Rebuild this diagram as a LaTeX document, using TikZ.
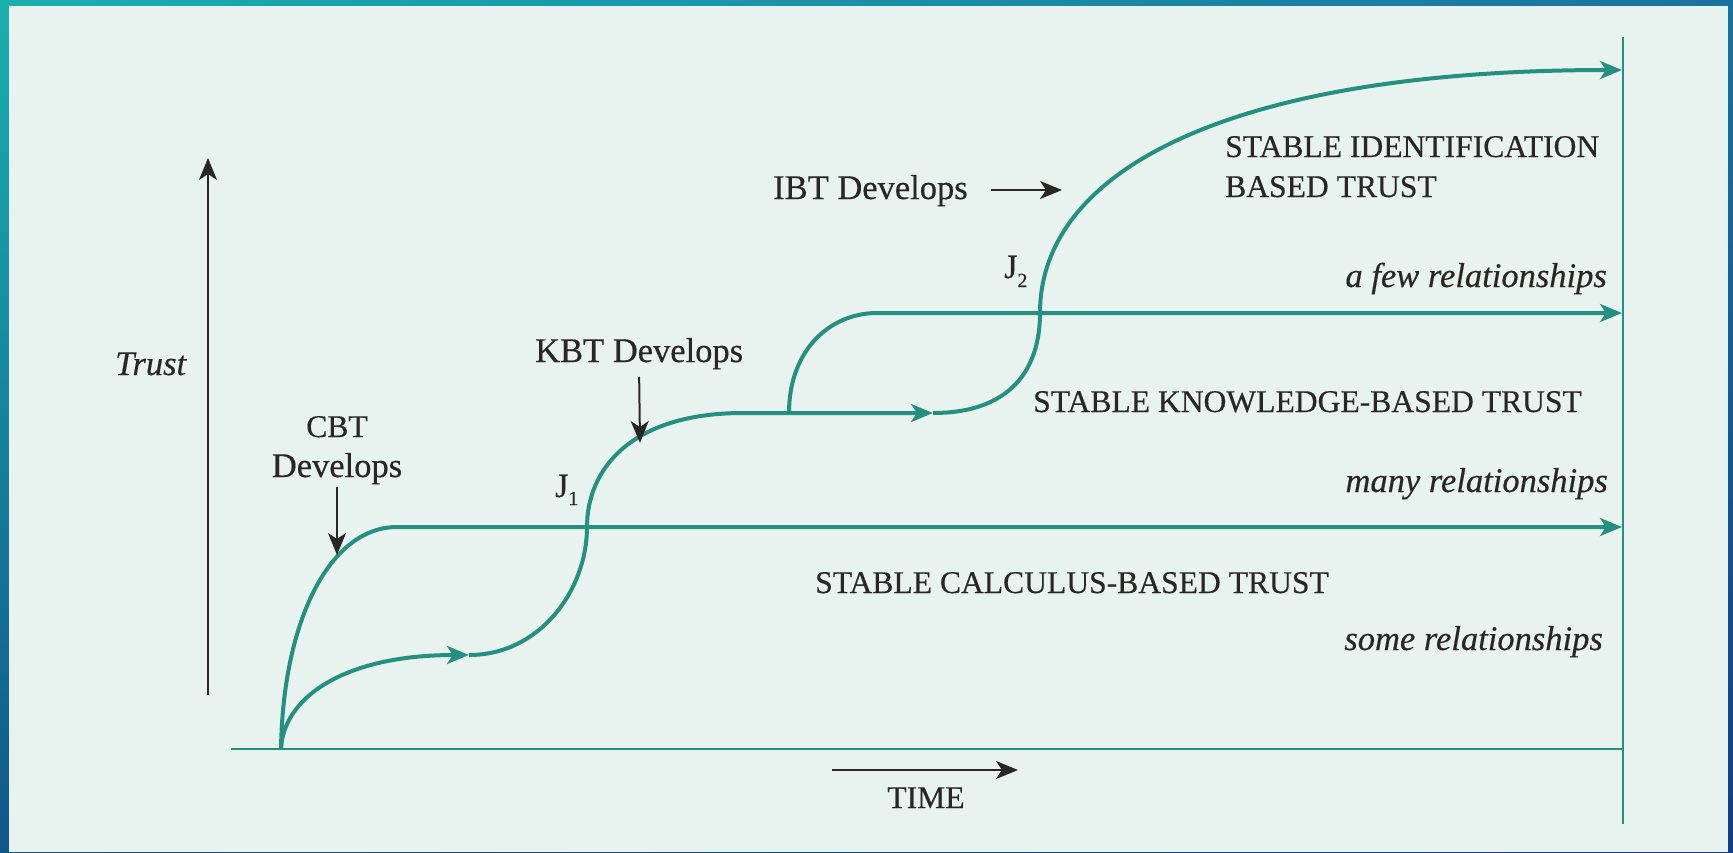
\documentclass[tikz,border=0pt]{standalone}
\usepackage{fontspec}
\setmainfont[FakeBold=0.4]{Liberation Serif}
\usetikzlibrary{arrows.meta,shadings}
\definecolor{tealc}{HTML}{25907F}
\definecolor{panel}{HTML}{E8F2EF}
\definecolor{ink}{HTML}{2A2626}
\definecolor{cTL}{HTML}{1AAFAF}
\definecolor{cTR}{HTML}{1A72A0}
\definecolor{cBL}{HTML}{11568A}
\definecolor{cBR}{HTML}{143C86}
\begin{document}
\begin{tikzpicture}[x=1pt,y=-1pt,
  curve/.style={draw=tealc, line width=4pt},
  ttip/.style={-{Stealth[length=22pt,width=18pt,inset=6pt]}},
  blk/.style={draw=ink, line width=2pt, -{Stealth[length=22pt,width=18pt,inset=6pt]}},
  capt/.style={text=ink, inner sep=0pt, font=\fontsize{31.6}{38}\selectfont},
  mixt/.style={text=ink, inner sep=0pt, font=\fontsize{34.5}{40}\selectfont},
  itt/.style={text=ink, inner sep=0pt, font=\fontsize{34.5}{40}\selectfont\itshape},
  jt/.style={text=ink, inner sep=0pt, font=\fontsize{34}{38}\selectfont},
]
\useasboundingbox (0,0) rectangle (1733,852);
\shade[upper left=cTL, upper right=cTR, lower left=cBL, lower right=cBR] (0,0) rectangle (1733,852);
\fill[panel] (9,6) rectangle (1728,852);

% axes
\coordinate (yb) at (208,695); \coordinate (yt) at (208,158);
\draw[blk] (yb) -- (yt);
\coordinate (xl) at (231,749); \coordinate (xr) at (1623,749);
\draw[tealc, line width=2.5pt] (xl) -- (xr);
\coordinate (vt) at (1623,37); \coordinate (vb) at (1623,824);
\draw[tealc, line width=2pt] (vt) -- (vb);

% curves
\coordinate (O) at (281,749);
\coordinate (c1) at (397,527); \coordinate (c1e) at (1622,527);
\draw[curve, ttip] (O) .. controls (283,620) and (330,527) .. (c1) -- (c1e);
\coordinate (a1) at (469,655);
\draw[curve, ttip] (O) .. controls (283,700) and (340,655) .. (a1);
\coordinate (j1) at (587,527); \coordinate (k1) at (743,413); \coordinate (a2) at (933,413);
\draw[curve, ttip] (a1) .. controls (540,655) and (587,590) .. (j1) .. controls (587,470) and (630,413) .. (k1) -- (a2);
\coordinate (j2) at (1040,313); \coordinate (e3) at (1622,70);
\draw[curve, ttip] (a2) .. controls (1010,413) and (1040,370) .. (j2) .. controls (1040,170) and (1230,70) .. (e3);
\coordinate (bs) at (789,413); \coordinate (b1) at (877,313); \coordinate (b1e) at (1622,313);
\draw[curve, ttip] (bs) .. controls (789,350) and (830,313) .. (b1) -- (b1e);

% texts
\node[capt, anchor=base west] (ibt1) at (1225,157) {STABLE IDENTIFICATION};
\node[capt, anchor=base west] (ibt2) at (1225,197) {BASED TRUST};
\node[itt, anchor=base east] (few) at (1607,287) {a few relationships};
\node[capt, anchor=base west] (kbtl) at (1033,412) {STABLE KNOWLEDGE-BASED TRUST};
\node[itt, anchor=base east] (many) at (1608,492) {many relationships};
\node[capt, anchor=base west] (cbtl) at (815,593) {STABLE CALCULUS-BASED TRUST};
\node[itt, anchor=base east] (some) at (1603,650) {some relationships};
\node[capt, anchor=base] (time) at (926,808) {TIME};
\node[itt, anchor=base west] (trust) at (115,375) {Trust};
\node[capt, anchor=base] (cbt) at (337,437) {CBT};
\node[mixt, anchor=base] (cbtdev) at (337,477) {Develops};
\node[mixt, anchor=base west] (kbt) at (535,362) {KBT Develops};
\node[mixt, anchor=base west] (ibt) at (773,199) {IBT Develops};
\node[jt, anchor=base west] (J1) at (555,497) {J\raisebox{-8pt}{\fontsize{20}{20}\selectfont 1}};
\node[jt, anchor=base west] (J2) at (1004,278) {J\raisebox{-9pt}{\fontsize{20}{20}\selectfont 2}};

% pointer arrows
\coordinate (cbe) at (337,555);
\draw[blk] (cbtdev.south |- 0,487) -- (cbe);
\coordinate (kbe) at (640,443);
\draw[blk] (kbt.south |- 0,377) -- (kbe);
\coordinate (ibe) at (1062,190);
\draw[blk] (ibt.east |- 0,190) ++(23,0) -- (ibe);
\coordinate (tms) at (832,770); \coordinate (tme) at (1018,770);
\draw[blk] (tms) -- (tme);
\end{tikzpicture}
\end{document}
